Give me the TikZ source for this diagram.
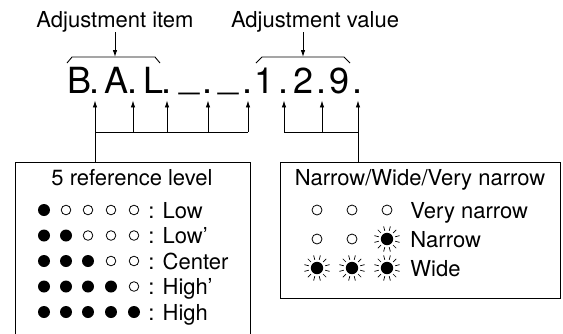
\documentclass[tikz,border=0pt]{standalone}
\usepackage{fontspec}
\setmainfont{TeX Gyre Heros}
\usetikzlibrary{arrows.meta,calc,positioning}
\tikzset{
  lbl/.style={font=\fontsize{22}{26}\selectfont, inner sep=0pt},
  big/.style={font=\fontsize{36}{42}\selectfont, inner sep=0pt, anchor=base},
  arr/.style={-{Latex[length=7pt,width=4.5pt]}},
  panel/.style={draw, inner sep=0pt, anchor=north west},
  unlit/.style={line width=0.8pt},
  ray/.style={line width=0.7pt},
}
\newcommand{\burst}[1]{%
  \foreach \ang in {15,45,...,345}
    \draw[ray] (#1) ++(\ang:8.5pt) -- ++(\ang:4.5pt);
  \fill (#1) circle (6.2pt);}

\begin{document}
\begin{tikzpicture}[x=1pt,y=-1pt,line width=0.9pt]
        \useasboundingbox (0,0) rectangle (563,333);
        %Labels
        \node[lbl,anchor=base] (item) at (115,27) {Adjustment item};
        \node[lbl,anchor=base] (value) at (315,27) {Adjustment value};
        \coordinate (ibr) at (115,57);
        \coordinate (vbr) at (303,57);
        %Brackets
        \draw (67,63) -- (72,57) -- (155,57) -- (160,63);
        \draw (256,63) -- (262,57) -- (344,57) -- (350,63);
        \draw[arr] (item.south -| ibr) -- (ibr);
        \draw[arr] (value.south -| vbr) -- (vbr);
        %Display
        \node[big] (c1) at (80,93) {B};
        \node[big] (d1) at (95,93) {.};
        \node[big] (c2) at (116.5,93) {A};
        \node[big] (d2) at (133,93) {.};
        \node[big] (c3) at (154,93) {L};
        \node[big] (d3) at (167,93) {.};
        \node[big] (c4) at (190,88) {\_};
        \node[big] (d4) at (208,93) {.};
        \node[big] (c5) at (228.5,88) {\_};
        \node[big] (d5) at (248,93) {.};
        \node[big] (c6) at (265,93) {1};
        \node[big] (d6) at (284,93) {.};
        \node[big] (c7) at (303.5,93) {2};
        \node[big] (d7) at (322,93) {.};
        \node[big] (c8) at (340,93) {9};
        \node[big] (d8) at (358,93) {.};
        %Boxes
        \node[panel, minimum width=235pt, minimum height=200pt] (lbox) at (15,162) {};
        \node[panel, minimum width=280pt, minimum height=136pt] (rbox) at (280,162) {};
        %Pointers
        \coordinate (lbar) at (0,132);
        \draw (lbox.north -| d1) -- (d1 |- lbar) -- (d5 |- lbar);
        \draw (rbox.north -| d8) -- (d8 |- lbar) -- (d6 |- lbar);
        \draw[arr] (d1 |- lbar) -- ([yshift=-7pt]d1.south);
        \draw[arr] (d2 |- lbar) -- ([yshift=-7pt]d2.south);
        \draw[arr] (d3 |- lbar) -- ([yshift=-7pt]d3.south);
        \draw[arr] (d4 |- lbar) -- ([yshift=-7pt]d4.south);
        \draw[arr] (d5 |- lbar) -- ([yshift=-7pt]d5.south);
        \draw[arr] (d6 |- lbar) -- ([yshift=-7pt]d6.south);
        \draw[arr] (d7 |- lbar) -- ([yshift=-7pt]d7.south);
        \draw[arr] (d8 |- lbar) -- ([yshift=-7pt]d8.south);
        %Reference level
        \node[lbl,anchor=base] (ltitle) at (132,185) {5 reference level};
        \fill (44,210) circle (6pt);
        \draw[unlit] (66,210) circle (4.8pt) (88,210) circle (4.8pt) (111,210) circle (4.8pt) (134,210) circle (4.8pt);
        \fill (44,235.5) circle (6pt) (66,235.5) circle (6pt);
        \draw[unlit] (88,235.5) circle (4.8pt) (111,235.5) circle (4.8pt) (134,235.5) circle (4.8pt);
        \fill (44,261) circle (6pt) (66,261) circle (6pt) (88,261) circle (6pt);
        \draw[unlit] (111,261) circle (4.8pt) (134,261) circle (4.8pt);
        \fill (44,286.5) circle (6pt) (66,286.5) circle (6pt) (88,286.5) circle (6pt) (111,286.5) circle (6pt);
        \draw[unlit] (134,286.5) circle (4.8pt);
        \fill (44,312) circle (6pt) (66,312) circle (6pt) (88,312) circle (6pt) (111,312) circle (6pt) (134,312) circle (6pt);
        \node[lbl,anchor=base west] (tlow) at (148,218) {: Low};
        \node[lbl,anchor=base west] (tlowp) at (148,243.5) {: Low’};
        \node[lbl,anchor=base west] (tcenter) at (148,269) {: Center};
        \node[lbl,anchor=base west] (thighp) at (148,294.5) {: High’};
        \node[lbl,anchor=base west] (thigh) at (148,320) {: High};
        %Width
        \node[lbl,anchor=base] (rtitle) at (420,185) {Narrow/Wide/Very narrow};
        \draw[unlit] (317,210) circle (5pt) (352,210) circle (5pt) (387,210) circle (5pt);
        \draw[unlit] (317,239) circle (5pt) (352,239) circle (5pt);
        \burst{387,239}
        \burst{317,268}
        \burst{352,268}
        \burst{387,268}
        \node[lbl,anchor=base west] (tvnar) at (410,218) {Very narrow};
        \node[lbl,anchor=base west] (tnar) at (410,247) {Narrow};
        \node[lbl,anchor=base west] (twide) at (410,276) {Wide};
\end{tikzpicture}
\end{document}
